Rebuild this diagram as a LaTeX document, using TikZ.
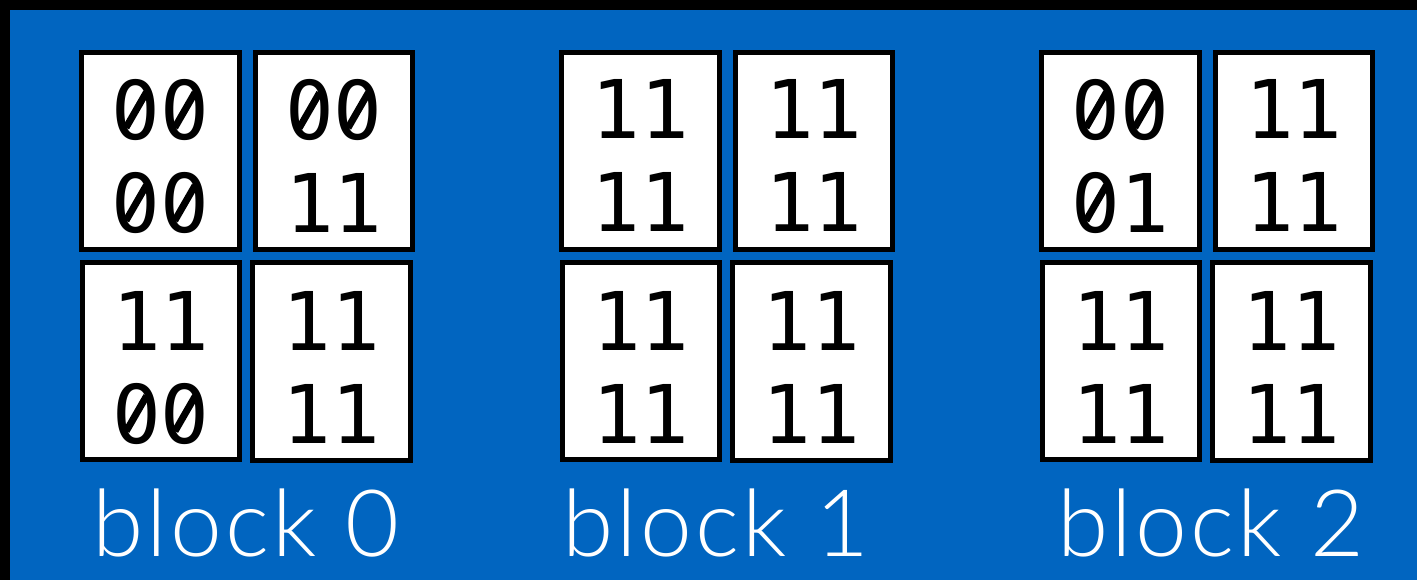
\documentclass[tikz,border=0pt]{standalone}
\usepackage{fontspec}
\usepackage{graphicx}
\newfontfamily\monofont{DejaVu Sans Mono}
\newfontfamily\lblfont{Lato Light}[LetterSpace=3.4]
\definecolor{bgblue}{RGB}{1,101,192}
% slashed zero: the glyph 0 with its centre dot hidden and a slash drawn across
\newcommand\szero{\rlap{0}\rlap{\hbox to 0.602em{\hss\raisebox{0.2445em}{\textcolor{white}{\rule{0.16em}{0.24em}}}\hss}}\hbox to 0.602em{\hss\raisebox{0.3645em}{\smash{\makebox[0pt]{\rotatebox[origin=c]{60}{\rule[-0.043em]{0.5em}{0.086em}}}}}\hss}}
\begin{document}
\begin{tikzpicture}[x=1pt,y=-1pt,
  cell/.style={draw=black,fill=white,line width=5pt,minimum width=157.4pt,minimum height=197pt,inner sep=0pt},
  bits/.style={anchor=north,inner sep=0pt,align=center,font=\monofont\fontsize{81}{93}\selectfont},
  blocklabel/.style={anchor=base,inner sep=0pt,text=white,font=\lblfont\fontsize{93}{100}\selectfont}]
\useasboundingbox (0,0) rectangle (1417,580);
\fill[black] (0,0) rectangle (1417,580);
\fill[bgblue] (10,10) rectangle (1417,580);
\def\Z{\szero}
\foreach \b/\dx/\lx/\ta/\tb/\tc/\td in {
  0/0/246/\Z\Z\\\Z\Z/\Z\Z\\11/11\\\Z\Z/11\\11,
  1/480/716/11\\11/11\\11/11\\11/11\\11,
  2/960/1211/\Z\Z\\\Z1/11\\11/11\\11/11\\11}{
  \node[cell] (tl\b) at (160.5+\dx,150.8) {};
  \node[cell] (tr\b) at (333.8+\dx,151) {};
  \node[cell] (bl\b) at (160.8+\dx,361.3) {};
  \node[cell] (br\b) at (331.5+\dx,361.5) {};
  \node[bits] (ttl\b) at ([yshift=-29.5pt]tl\b.north) {\ta};
  \node[bits] (ttr\b) at ([yshift=-29.5pt]tr\b.north) {\tb};
  \node[bits] (tbl\b) at ([yshift=-30.5pt]bl\b.north) {\tc};
  \node[bits] (tbr\b) at ([yshift=-30.5pt]br\b.north) {\td};
  \node[blocklabel] (lab\b) at (\lx,556) {block \b};
}
\end{tikzpicture}
\end{document}
